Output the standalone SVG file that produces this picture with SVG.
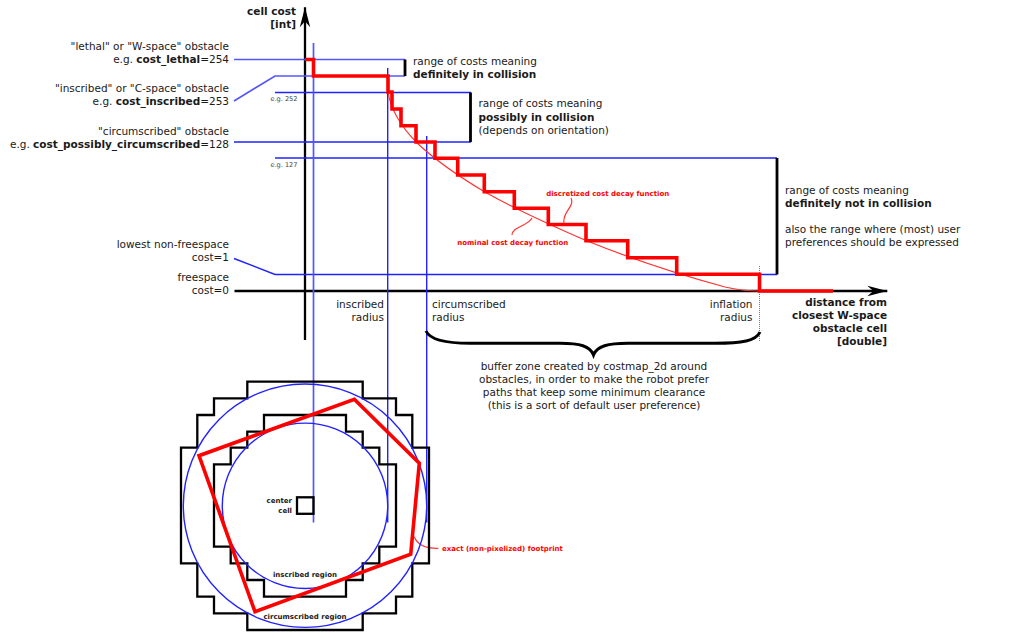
<svg xmlns="http://www.w3.org/2000/svg" width="1027" height="638" viewBox="0 0 1027 638">
<style>
text{font-family:"DejaVu Sans",sans-serif;font-size:10.5px;fill:#1a1a1a}
.b{font-weight:bold}
.e{text-anchor:end}
.m{text-anchor:middle}
.s{font-size:6.6px;fill:#444}
.k{font-size:7px;font-weight:bold}
.r{font-size:7px;font-weight:bold;fill:#f00}
.bl{fill:none;stroke:#22f;stroke-width:1.4}
.blv{fill:none;stroke:#55f;stroke-width:1.7}
.blk{fill:none;stroke:#000;stroke-width:2.3}
.bar{fill:none;stroke:#000;stroke-width:2.8}
.red{fill:none;stroke:#f00;stroke-width:3.6;stroke-linejoin:miter}
.thin{fill:none;stroke:#f33;stroke-width:1.2}
</style>
<defs>
<marker id="ah" markerUnits="userSpaceOnUse" markerWidth="24" markerHeight="14" refX="20" refY="7" orient="auto" overflow="visible"><path d="M20,7 L0,1.8 L6,7 L0,12.2 Z" fill="#000"/></marker>
</defs>
<rect width="1027" height="638" fill="#fff"/>
<g id="connectors">
<path class="blk" d="M305,340V7.3" marker-end="url(#ah)"/>
<path class="blk" d="M234.5,291H887.3" marker-end="url(#ah)"/>
<path d="M759.5,266V341" fill="none" stroke="#777" stroke-width="1" stroke-dasharray="1 1"/>
<path class="blv" d="M234,59.5H405M234,101L275,76H405"/>
<path class="bl" d="M275,92.5H471M234,142H471M275,158H777M234,258.5L275,274.5H777"/>
<path class="blv" d="M313.5,43V522.5"/>
<path class="bl" d="M387.7,68V522.5M426.7,136V522.5"/>
<path class="bar" d="M405,59.5V76M470.5,92.5V142M777,158V274.5"/>
<path d="M426,331C430,340 445,343.3 470,343.3H560C580,343.3 590,346 593.5,355C597,346 608,343.3 628,343.3H715C742,343.3 756,341 760,332" fill="none" stroke="#000" stroke-width="3"/>
<path class="thin" d="M388,92C390,105 396,121 416,142C435,160 458,176 484,191.5C514,208.5 548,224 586,240.5C628,257.5 677,274 725,287C740,290.5 750,291 760,291"/>
<path class="red" d="M305,59.5H313.5V76H388V92H392V109H401V125.7H416V142H435V158.3H457.7V175H484.3V191.7H514.3V208.3H548.3V224.5H586V240.7H627.7V257.7H676.7V274.3H759.5V291H833"/>
<path class="thin" d="M571,198C575,207 562,212 564,223M532,218C528,226 512,227 512,235M414.3,536.7C417,544 425,548.5 438.3,548.3"/>
</g>
<g id="footprint">
<path class="blk" d="M247.3,381.7H362.7V398.3H396V415H412.3V447.7H429V563.3H412.3V596.7H396V613.3H362.7V630H247.3V613.3H214V596.7H197.3V563.3H181V447.7H197.3V415H214V398.3H247.3Z"/>
<path class="blk" d="M264,415H346V431.7H362.7V447.7H379.3V464.3H396V546.7H379.3V563.3H362.7V580H346V596.7H264V580H247.3V563.3H230.7V546.7H214V464.3H230.7V447.7H247.3V431.7H264Z"/>
<rect x="297" y="497.3" width="16.5" height="16.5" class="blk"/>
<circle cx="305" cy="505.7" r="121.7" class="bl"/>
<circle cx="305" cy="505.8" r="82.7" class="bl"/>
<path class="red" d="M354.3,399.3L419.3,463.3L410.7,554.3L255,611.7L199,455.7Z"/>
</g>
<g id="labels">
<text class="b e" x="296" y="15">cell cost</text>
<text class="b e" x="296" y="28">[int]</text>
<text class="e" x="229" y="49.5">"lethal" or "W-space" obstacle</text>
<text class="e" x="229" y="62.7">e.g. <tspan class="b">cost_lethal</tspan>=254</text>
<text class="e" x="229" y="92">"inscribed" or "C-space" obstacle</text>
<text class="e" x="229" y="105">e.g. <tspan class="b">cost_inscribed</tspan>=253</text>
<text class="e" x="229" y="135">"circumscribed" obstacle</text>
<text class="e" x="229" y="148">e.g. <tspan class="b">cost_possibly_circumscribed</tspan>=128</text>
<text class="e" x="229" y="248">lowest non-freespace</text>
<text class="e" x="229" y="261">cost=1</text>
<text class="e" x="229" y="281">freespace</text>
<text class="e" x="229" y="294">cost=0</text>
<text class="s e" x="297.5" y="101">e.g. 252</text>
<text class="s e" x="297.5" y="167">e.g. 127</text>
<text x="413" y="65">range of costs meaning</text>
<text class="b" x="413" y="78">definitely in collision</text>
<text x="478.5" y="107">range of costs meaning</text>
<text class="b" x="478.5" y="120.5">possibly in collision</text>
<text x="478.5" y="133.5">(depends on orientation)</text>
<text x="785" y="193.5">range of costs meaning</text>
<text class="b" x="785" y="206.5">definitely not in collision</text>
<text x="785" y="232.5">also the range where (most) user</text>
<text x="785" y="245.5">preferences should be expressed</text>
<text class="r m" x="607.7" y="195.5">discretized cost decay function</text>
<text class="r m" x="512.7" y="245">nominal cost decay function</text>
<text class="e" x="384" y="307.5">inscribed</text>
<text class="e" x="384" y="320.5">radius</text>
<text x="432" y="307.5">circumscribed</text>
<text x="432" y="320.5">radius</text>
<text class="e" x="752.5" y="307.5">inflation</text>
<text class="e" x="752.5" y="320.5">radius</text>
<text class="b e" x="887" y="306">distance from</text>
<text class="b e" x="887" y="319">closest W-space</text>
<text class="b e" x="887" y="332">obstacle cell</text>
<text class="b e" x="887" y="345">[double]</text>
<text class="m" x="594" y="370">buffer zone created by costmap_2d around</text>
<text class="m" x="594" y="383">obstacles, in order to make the robot prefer</text>
<text class="m" x="594" y="396">paths that keep some minimum clearance</text>
<text class="m" x="594" y="409">(this is a sort of default user preference)</text>
<text class="k e" x="292" y="503">center</text>
<text class="k e" x="292" y="512.5">cell</text>
<text class="k m" x="305" y="576.7">inscribed region</text>
<text class="k m" x="305" y="619">circumscribed region</text>
<text class="r" x="442" y="551">exact (non-pixelized) footprint</text>
</g>
</svg>
